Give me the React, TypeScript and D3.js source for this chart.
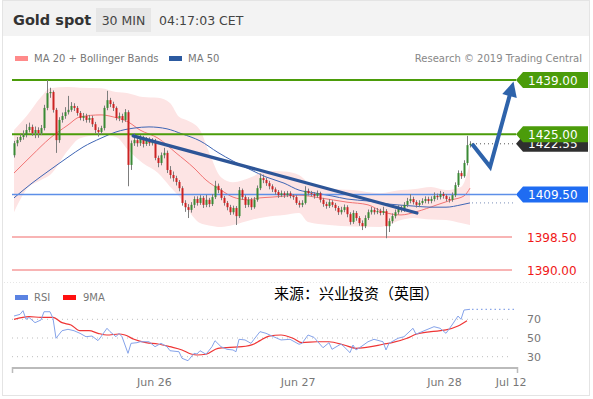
import * as d3 from 'd3';

// 30-minute candles, open = previous close
const firstOpen = 1419.6;
const closes = [
  1422.7, 1423.5, 1424.3, 1424.8, 1426.1, 1426.9, 1425.3, 1426.1, 1425.3, 1426.6,
  1431.8, 1435.6, 1435.9, 1431.3, 1423.5, 1428.7, 1429.7, 1430.7, 1431.3, 1432.3,
  1431.8, 1430.5, 1429.2, 1429.7, 1428.7, 1429.2, 1427.6, 1426.1, 1425.6, 1426.6,
  1431.8, 1433.8, 1432.8, 1431.8, 1429.2, 1429.7, 1428.7, 1430.7, 1417.1, 1422.7,
  1423.5, 1422.7, 1424.0, 1422.5, 1423.5, 1422.7, 1423.2, 1418.9, 1417.6, 1419.6,
  1420.2, 1415.8, 1414.5, 1413.7, 1412.7, 1411.1, 1407.3, 1406.2, 1405.5, 1406.8,
  1408.3, 1407.3, 1408.6, 1406.8, 1408.1, 1407.0, 1408.8, 1411.7, 1410.6, 1408.6,
  1407.3, 1406.2, 1404.9, 1406.0, 1403.9, 1410.6, 1408.8, 1406.8, 1408.1, 1406.2,
  1408.1, 1411.1, 1413.7, 1413.2, 1412.4, 1411.6, 1410.8, 1410.1, 1409.3, 1409.8,
  1409.3, 1409.8, 1409.1, 1408.8, 1407.3, 1406.8, 1407.3, 1410.4, 1409.8, 1409.6,
  1409.1, 1409.8, 1408.1, 1407.0, 1406.5, 1407.5, 1406.8, 1406.0, 1404.9, 1405.5,
  1406.2, 1404.4, 1402.4, 1404.7, 1403.4, 1402.1, 1401.3, 1403.4, 1404.9, 1405.5,
  1404.9, 1405.2, 1404.7, 1405.2, 1401.3, 1402.6, 1403.9, 1404.9, 1406.0, 1405.5,
  1406.8, 1407.8, 1408.3, 1407.5, 1406.8, 1407.3, 1407.8, 1408.3, 1407.8, 1408.3,
  1409.1, 1408.8, 1409.6, 1409.1, 1408.3, 1408.1, 1409.3, 1411.9, 1415.0, 1414.2,
  1417.6, 1422.2, 1422.55,
];
const highs = [
  1423.3, 1424.3, 1425.0, 1426.0, 1427.6, 1428.0, 1427.5, 1427.0, 1426.8, 1427.4,
  1432.6, 1439.0, 1437.0, 1436.3, 1431.8, 1429.4, 1430.6, 1432.0, 1434.9, 1433.3,
  1433.0, 1432.3, 1431.0, 1430.5, 1430.3, 1430.0, 1429.8, 1428.2, 1426.8, 1427.2,
  1432.4, 1436.2, 1434.4, 1433.4, 1432.2, 1430.6, 1430.3, 1431.5, 1431.2, 1423.4,
  1425.3, 1424.2, 1424.8, 1424.6, 1424.3, 1424.2, 1424.0, 1423.8, 1419.5, 1420.3,
  1421.5, 1420.8, 1416.8, 1415.4, 1414.3, 1413.2, 1411.6, 1408.0, 1407.0, 1407.5,
  1409.0, 1409.0, 1409.3, 1409.1, 1409.4, 1408.6, 1409.6, 1413.0, 1412.3, 1411.1,
  1409.1, 1407.8, 1406.8, 1406.6, 1406.5, 1411.4, 1411.0, 1409.3, 1408.8, 1408.6,
  1408.8, 1411.8, 1414.9, 1414.6, 1413.8, 1413.0, 1412.1, 1411.3, 1410.6, 1410.5,
  1410.3, 1410.4, 1410.3, 1409.6, 1409.3, 1407.9, 1408.0, 1411.6, 1411.0, 1410.4,
  1410.1, 1410.5, 1410.2, 1408.6, 1407.6, 1408.3, 1408.0, 1407.3, 1406.5, 1406.3,
  1406.9, 1406.7, 1404.9, 1405.4, 1405.2, 1403.9, 1402.8, 1404.1, 1405.6, 1406.3,
  1406.0, 1406.0, 1405.8, 1406.3, 1405.7, 1403.3, 1404.6, 1405.6, 1406.7, 1406.6,
  1407.5, 1408.6, 1409.6, 1408.9, 1408.0, 1408.0, 1408.5, 1409.0, 1408.9, 1409.0,
  1410.0, 1409.7, 1410.4, 1410.1, 1409.6, 1408.9, 1410.0, 1412.6, 1415.7, 1415.6,
  1418.3, 1424.6, 1423.2,
];
const lows = [
  1419.0, 1421.9, 1423.0, 1423.6, 1424.2, 1425.5, 1424.6, 1424.0, 1424.1, 1424.8,
  1426.0, 1431.2, 1434.4, 1430.6, 1420.2, 1422.8, 1428.0, 1429.0, 1430.1, 1430.8,
  1431.0, 1429.8, 1428.6, 1428.4, 1428.0, 1428.0, 1426.9, 1425.2, 1424.4, 1425.0,
  1426.0, 1431.2, 1432.0, 1431.0, 1428.6, 1428.4, 1428.0, 1428.2, 1411.6, 1415.8,
  1422.0, 1421.8, 1422.0, 1421.6, 1422.0, 1422.0, 1422.1, 1418.3, 1416.5, 1417.0,
  1418.8, 1415.0, 1413.6, 1412.8, 1411.8, 1410.3, 1406.6, 1405.0, 1403.4, 1404.8,
  1406.0, 1406.6, 1406.8, 1406.0, 1406.2, 1406.2, 1406.5, 1408.3, 1409.8, 1408.0,
  1406.6, 1405.4, 1404.2, 1404.3, 1401.6, 1403.4, 1408.1, 1406.0, 1406.2, 1405.5,
  1405.8, 1407.6, 1410.6, 1412.4, 1411.7, 1410.8, 1410.1, 1409.4, 1408.6, 1408.8,
  1408.6, 1408.8, 1408.5, 1408.1, 1406.8, 1406.1, 1406.2, 1406.9, 1409.2, 1409.0,
  1408.4, 1408.6, 1407.4, 1406.3, 1405.8, 1406.0, 1406.2, 1405.3, 1404.2, 1404.3,
  1404.9, 1403.6, 1401.7, 1401.9, 1402.7, 1401.4, 1400.3, 1400.8, 1402.9, 1404.3,
  1404.3, 1404.4, 1404.1, 1404.2, 1398.2, 1399.8, 1402.0, 1403.3, 1404.3, 1404.9,
  1405.0, 1406.2, 1407.2, 1406.9, 1406.1, 1406.2, 1406.8, 1407.2, 1407.1, 1407.2,
  1407.7, 1408.1, 1408.2, 1408.4, 1407.7, 1407.4, 1407.6, 1408.8, 1411.4, 1413.5,
  1413.8, 1417.0, 1421.6,
];

// MA 20 and MA 50, read at bar positions
const ma20Idx = [0, 6, 12, 18, 22, 29, 33, 38, 42, 48, 54, 60, 64, 69, 73, 78, 82, 86, 91, 95, 102, 111, 118, 123, 129, 134, 141, 146, 150, 152];
const ma20Val = [1415.0, 1419.6, 1424.0, 1427.4, 1429.5, 1430.0, 1429.5, 1428.2, 1426.1, 1424.0, 1420.2, 1416.3, 1413.2, 1410.6, 1408.8, 1408.1, 1408.6, 1408.8, 1409.1, 1409.3, 1408.6, 1407.5, 1406.8, 1405.0, 1404.2, 1405.0, 1406.8, 1408.1, 1409.1, 1411.1];
const ma50Idx = [0, 6, 12, 18, 23, 29, 34, 40, 45, 51, 56, 62, 68, 73, 79, 84, 90, 95, 100, 106, 111, 118, 125, 133, 139, 144, 149, 152];
const ma50Val = [1408.6, 1412.4, 1415.8, 1419.1, 1421.7, 1424.0, 1425.6, 1426.6, 1426.9, 1426.4, 1425.1, 1423.3, 1420.3, 1418.1, 1415.8, 1414.0, 1412.4, 1410.6, 1409.9, 1409.1, 1408.3, 1407.8, 1407.0, 1406.5, 1406.2, 1406.2, 1406.8, 1407.3];

// Bollinger bands
const bandIdx = [0, 4, 9, 12, 18, 22, 29, 34, 38, 43, 48, 52, 55, 58, 62, 65, 69, 73, 79, 84, 90, 95, 98, 105, 113, 122, 129, 133, 139, 144, 149, 152];
const bandUp = [1426.1, 1429.5, 1434.6, 1436.9, 1437.2, 1437.0, 1436.9, 1435.9, 1435.6, 1434.6, 1434.4, 1433.1, 1429.5, 1428.5, 1426.1, 1420.4, 1413.9, 1412.6, 1413.9, 1415.5, 1415.4, 1414.5, 1412.6, 1411.1, 1410.6, 1409.8, 1410.6, 1410.8, 1411.4, 1410.6, 1411.4, 1417.6];
const bandLo = [1404.9, 1410.6, 1413.2, 1414.5, 1420.9, 1424.0, 1424.8, 1424.3, 1421.0, 1417.5, 1415.0, 1411.5, 1409.0, 1405.5, 1402.1, 1401.5, 1401.1, 1401.6, 1402.9, 1403.7, 1404.2, 1404.7, 1402.4, 1401.6, 1401.2, 1401.1, 1402.9, 1403.4, 1403.0, 1402.9, 1402.1, 1401.6];

// RSI + 9MA
const rsiIdx = [0, 2, 3, 4, 5, 7, 9, 10, 12, 13, 14, 16, 18, 20, 22, 24, 26, 28, 29, 31, 32, 34, 35, 36, 38, 39, 41, 42, 45, 47, 49, 51, 52, 55, 56, 58, 60, 61, 62, 64, 66, 67, 69, 71, 73, 74, 75, 77, 79, 80, 82, 84, 87, 89, 92, 95, 96, 98, 100, 103, 105, 106, 109, 110, 112, 113, 114, 116, 118, 120, 123, 124, 125, 128, 130, 133, 134, 136, 140, 142, 144, 146, 148, 149, 150, 152];
const rsiVal = [73.5, 75.3, 79.2, 70, 72, 66.4, 69.3, 78.1, 78.1, 71, 49.7, 57.8, 59.3, 57.8, 55, 51.4, 52.1, 47.2, 51.4, 60.4, 56.8, 51.4, 55, 51.4, 33.6, 44.3, 45, 46, 46, 40.7, 44.3, 40.7, 36.4, 35.3, 28.3, 25.7, 33.6, 32.9, 36.4, 32.6, 40.7, 47.1, 40.7, 37.9, 37.2, 35.3, 48.6, 47.9, 44.3, 48.6, 56.8, 55, 50.7, 47.9, 48.6, 43.3, 44.3, 53.2, 50.7, 39.6, 45, 37.9, 43.6, 40.7, 34.3, 42.5, 37.2, 41.4, 46, 48.6, 46, 37.2, 44.3, 49.7, 51.4, 60.4, 54, 56.8, 62.1, 60.4, 55, 63.9, 73.5, 70, 79.9, 80.7];
const maRsiIdx = [0, 5, 9, 13, 16, 19, 22, 25, 28, 31, 35, 37, 40, 44, 48, 52, 56, 59, 61, 64, 68, 72, 76, 80, 82, 85, 89, 93, 96, 101, 105, 110, 114, 119, 123, 126, 131, 134, 139, 144, 148, 151];
const maRsiVal = [70, 72.8, 72.1, 72.1, 66.4, 63.9, 57.8, 57.8, 55, 53.2, 54.3, 53.2, 48.6, 45, 43.6, 40.7, 37.2, 32.9, 31.8, 32.6, 39, 40, 40.7, 43.6, 47.2, 52.1, 53.2, 49.7, 45, 46, 46, 42.5, 39, 40.7, 43.3, 45, 49.7, 54, 56.8, 58.6, 62.8, 68.5];
const rsiTicks = [70, 50, 30];

// key levels
const resistances = [1439, 1425];
const support = 1409.5;
const minorLevels = [1398.5, 1390];

// trend line and forecast path
const trendIdx = [39.7, 134.3];
const trendVal = [1424.6, 1404.7];
const fcIdx = [152.7, 158.7, 166.5];
const fcVal = [1422.5, 1416.6, 1438.6];

const dateTicks = [46.8, 94.7, 143.5, 167.7];
const dateLabels = ['Jun 26', 'Jun 27', 'Jun 28', 'Jul 12'];

const FONT = "'DejaVu Sans', Verdana, sans-serif";
const GREEN = '#4b9c0a';

export default function App() {
  const x = d3.scaleLinear().domain([0, 168]).range([14, 518]);
  const y = d3.scaleLinear().domain([1390, 1439]).range([270, 80]);
  const yr = d3.scaleLinear().domain([30, 70]).range([356.7, 319.3]);

  const band = d3.area<number>()
    .x((i) => x(bandIdx[i]))
    .y0((i) => y(bandLo[i]))
    .y1((i) => y(bandUp[i]))
    .curve(d3.curveMonotoneX);
  const maLine = (idx: number[], vals: number[]) =>
    d3.line<number>().x((i) => x(idx[i])).y((i) => y(vals[i])).curve(d3.curveMonotoneX)(d3.range(idx.length));
  const rsiLine = (idx: number[], vals: number[], curve: any) =>
    d3.line<number>().x((i) => x(idx[i])).y((i) => yr(vals[i])).curve(curve)(d3.range(idx.length));

  const last = closes[closes.length - 1];
  const lastMa50 = ma50Val[ma50Val.length - 1];
  const lastRsi = rsiVal[rsiVal.length - 1];

  // forecast arrow
  const fcPts = fcIdx.map((d, i) => [x(d), y(fcVal[i])] as [number, number]);
  const [tx, ty] = fcPts[fcPts.length - 1];
  const [px, py] = fcPts[fcPts.length - 2];
  const len = Math.hypot(tx - px, ty - py);
  const ux = (tx - px) / len;
  const uy = (ty - py) / len;
  const headLen = 15;
  const bx = tx - ux * headLen;
  const by = ty - uy * headLen;
  const head = `M${tx},${ty} L${bx + uy * 7.5},${by - ux * 7.5} L${bx - uy * 7.5},${by + ux * 7.5} Z`;
  const shaftPts = [...fcPts.slice(0, -1), [bx + ux * 2, by + uy * 2]];

  const tag = (v: number) => {
    const cy = y(v);
    return `M516,${cy} L523,${cy - 8} L588,${cy - 8} L588,${cy + 8} L523,${cy + 8} Z`;
  };

  return (
    <div>
      <style>{'body{margin:0}'}</style>
      <svg width={593} height={399} style={{ display: 'block', fontFamily: FONT }}>
        <rect x={2.5} y={0.5} width={587} height={395} fill="#fff" stroke="#e4e4e4" />
        <rect x={3} y={1} width={586} height={35} fill="#f3f3f3" />

        {/* header */}
        <text x={13} y={25} fontSize={14.5} fontWeight="bold" fill="#333">Gold spot</text>
        <rect x={96} y={8} width={55} height={24} fill="#e6e6e6" />
        <text x={123.5} y={25} fontSize={12.5} fill="#444" textAnchor="middle">30 MIN</text>
        <text x={159} y={25} fontSize={12.5} fill="#444">04:17:03 CET</text>

        {/* legend */}
        <rect x={15} y={56} width={13} height={5} fill="#ff8a8a" />
        <text x={34} y={62} fontSize={10} fill="#777">MA 20 + Bollinger Bands</text>
        <rect x={169} y={56} width={13} height={5} fill="#2c5aa0" />
        <text x={188} y={62} fontSize={10} fill="#777">MA 50</text>
        <text x={582} y={62} fontSize={10} fill="#888" textAnchor="end">Research © 2019 Trading Central</text>

        {/* bollinger band + MAs */}
        <path d={band(d3.range(bandIdx.length)) ?? ''} fill="#fde4e4" />
        <path d={maLine(ma20Idx, ma20Val) ?? ''} fill="none" stroke="#f27474" strokeWidth={1} />
        <path d={maLine(ma50Idx, ma50Val) ?? ''} fill="none" stroke="#3f66b5" strokeWidth={1} />

        {/* levels */}
        {resistances.map((v) => (
          <line key={v} x1={12} x2={516} y1={y(v)} y2={y(v)} stroke={GREEN} strokeWidth={2} />
        ))}
        <line x1={12} x2={516} y1={y(support)} y2={y(support)} stroke="#5d8fe8" strokeWidth={1.5} />
        {minorLevels.map((v) => (
          <line key={v} x1={12} x2={512} y1={y(v)} y2={y(v)} stroke="#f8b4b4" strokeWidth={2} />
        ))}

        {/* candles */}
        {closes.map((c, i) => {
          const o = i === 0 ? firstOpen : closes[i - 1];
          const cx = x(i);
          const top = y(Math.max(o, c));
          const h = Math.max(1, Math.abs(y(o) - y(c)));
          return (
            <g key={i}>
              <line x1={cx + 0.5} x2={cx + 0.5} y1={y(highs[i])} y2={y(lows[i])} stroke="#7d7d7d" strokeWidth={1} />
              <rect x={cx - 0.5} y={top} width={2} height={h} fill={c >= o ? '#3a8a35' : '#cc2222'} />
            </g>
          );
        })}

        {/* trend line */}
        <line x1={x(trendIdx[0])} y1={y(trendVal[0])} x2={x(trendIdx[1])} y2={y(trendVal[1])} stroke="#2d5597" strokeWidth={3.2} strokeLinecap="round" />

        {/* dotted extensions */}
        <line x1={472} x2={515} y1={y(last)} y2={y(last)} stroke="#555" strokeDasharray="1,3" />
        <line x1={472} x2={515} y1={y(lastMa50)} y2={y(lastMa50)} stroke="#7a8fb8" strokeDasharray="1,3" />

        {/* forecast */}
        <path d={d3.line()(shaftPts as [number, number][]) ?? ''} fill="none" stroke="#2e63ab" strokeWidth={4} strokeLinejoin="miter" />
        <path d={head} fill="#2e63ab" />

        {/* right labels: last price tag sits under the 1425 tag, as in the source */}
        <path d={tag(last)} fill="#2f2f2f" />
        <text x={528} y={y(last) + 4.5} fontSize={12} fill="#fff">{last.toFixed(2)}</text>
        {resistances.map((v) => (
          <g key={v}>
            <path d={tag(v)} fill={GREEN} />
            <text x={528} y={y(v) + 4.5} fontSize={12} fill="#fff">{v.toFixed(2)}</text>
          </g>
        ))}
        <path d={tag(support)} fill="#1f6cf2" />
        <text x={528} y={y(support) + 4.5} fontSize={12} fill="#fff">{support.toFixed(2)}</text>
        {minorLevels.map((v) => (
          <text key={v} x={527} y={y(v) + 4.5} fontSize={12} fill="#f01818">{v.toFixed(2)}</text>
        ))}

        {/* separator */}
        <line x1={4} x2={588} y1={282.5} y2={282.5} stroke="#e6e6e6" strokeDasharray="1,2" />

        <text x={274} y={299} fontSize={15} fill="#000" fontFamily="'Noto Sans CJK SC', sans-serif">来源：兴业投资（英国）</text>

        {/* RSI legend */}
        <rect x={15} y={295} width={13} height={5} fill="#5b83e2" />
        <text x={34} y={301} fontSize={10} fill="#777">RSI</text>
        <rect x={63} y={295} width={13} height={5} fill="#ff1010" />
        <text x={83} y={301} fontSize={10} fill="#777">9MA</text>

        {/* RSI grid */}
        {rsiTicks.map((t) => (
          <g key={t}>
            <line x1={12} x2={512} y1={yr(t)} y2={yr(t)} stroke="#bdbdbd" strokeDasharray="1,4" />
            <text x={527} y={yr(t) + 4} fontSize={11} fill="#777">{t}</text>
          </g>
        ))}
        <line x1={472} x2={515} y1={yr(lastRsi)} y2={yr(lastRsi)} stroke="#8aa6e8" strokeDasharray="1.5,3" strokeWidth={1.2} />
        <path d={rsiLine(maRsiIdx, maRsiVal, d3.curveMonotoneX) ?? ''} fill="none" stroke="#ef3535" strokeWidth={1.2} />
        <path d={rsiLine(rsiIdx, rsiVal, d3.curveLinear) ?? ''} fill="none" stroke="#85a3ea" strokeWidth={1} />

        {/* time axis */}
        <line x1={12} x2={518} y1={368} y2={368} stroke="#bbb" strokeWidth={2} />
        <line x1={12.5} x2={12.5} y1={367} y2={373} stroke="#bbb" strokeWidth={1.5} />
        <line x1={517.5} x2={517.5} y1={367} y2={373} stroke="#bbb" strokeWidth={1.5} />
        {dateTicks.map((t, i) => (
          <text key={t} x={i === dateTicks.length - 1 ? x(t) - 6 : x(t)} y={386} fontSize={11} fill="#777" textAnchor="middle">
            {dateLabels[i]}
          </text>
        ))}
      </svg>
    </div>
  );
}
